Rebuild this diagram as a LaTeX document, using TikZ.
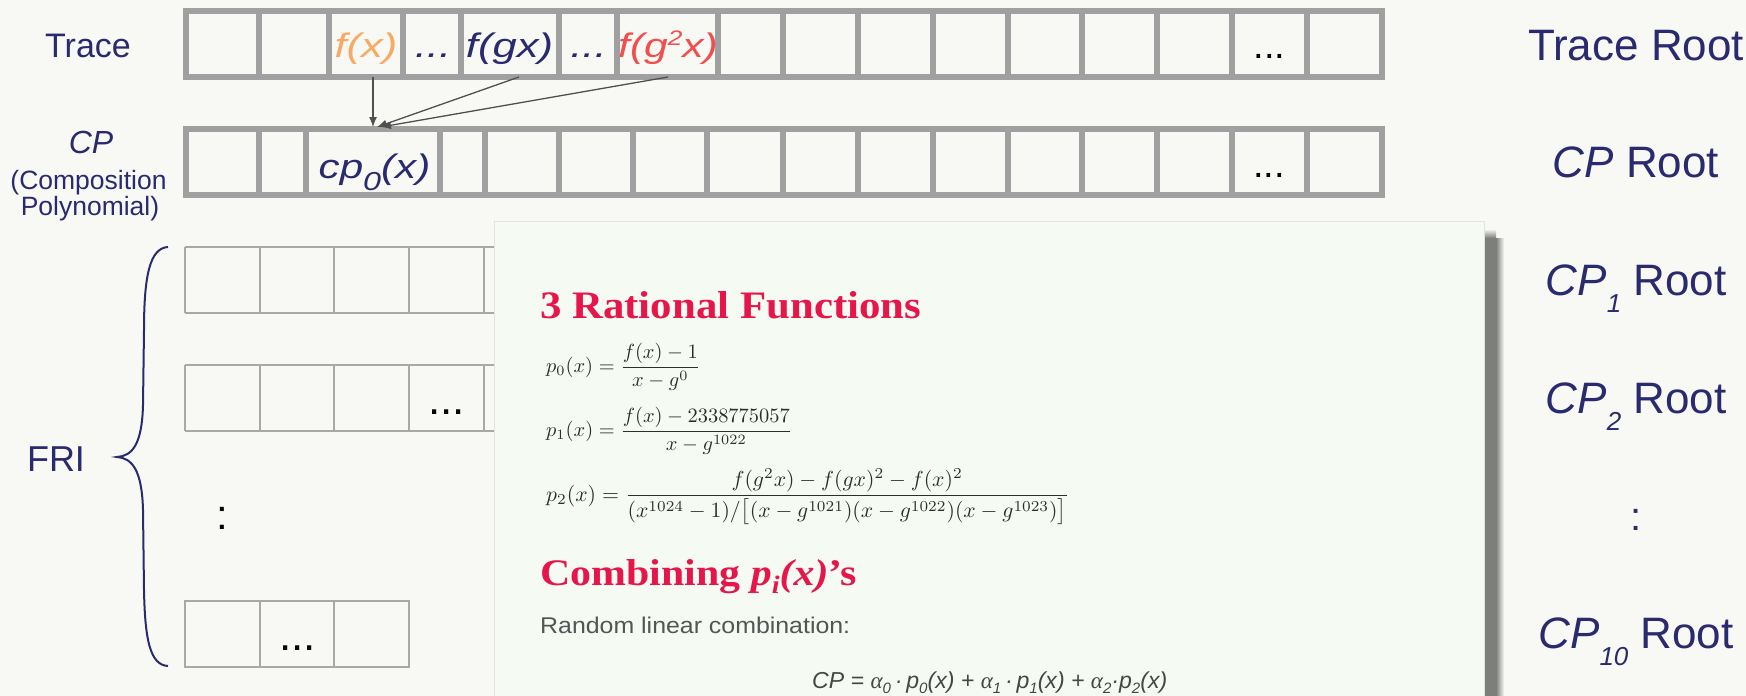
\documentclass[tikz,border=0pt]{standalone}
\usepackage{fontspec}
\setmainfont{Liberation Sans}
\newfontfamily\serifbf{Liberation Serif}
\usetikzlibrary{arrows.meta}
\definecolor{bg}{RGB}{248,249,244}
\definecolor{navy}{RGB}{42,42,110}
\definecolor{cellgray}{RGB}{160,160,160}
\definecolor{frigray}{RGB}{168,168,168}
\definecolor{orng}{RGB}{248,170,100}
\definecolor{redf}{RGB}{242,78,78}
\definecolor{crim}{RGB}{230,22,75}
\definecolor{panelbg}{RGB}{245,250,242}
\definecolor{panelbd}{RGB}{226,228,224}
\definecolor{arrowc}{RGB}{80,80,80}
\definecolor{mathc}{RGB}{45,45,45}
\definecolor{txtgray}{RGB}{85,85,85}
\definecolor{eqc}{RGB}{70,70,70}
\definecolor{shd}{RGB}{125,127,123}
\newcommand{\fs}[1]{\fontsize{#1}{#1}\selectfont}
\newcommand{\lsub}[3]{\raisebox{-#2pt}{\fs{#3}#1}}
\newcommand{\cellfont}{\fs{34}\itshape}
\begin{document}
\begin{tikzpicture}[x=1pt,y=-1pt,
  lbl/.style={inner sep=0pt, anchor=base, text=navy},
  tlabel/.style={lbl, font=\fs{34}},
  rlabel/.style={lbl, font=\fs{44}},
  rowline/.style={draw=cellgray, line width=5.5pt},
  friline/.style={draw=frigray, line width=1.7pt},
  conn/.style={draw=arrowc, line width=1.3pt, -{Latex[length=10pt,width=8pt]}},
  dots/.style={inner sep=0pt, anchor=base, text=black}]
\useasboundingbox (0,0) rectangle (1746,696);
\fill[bg] (0,0) rectangle (1746,696);

% ---- FRI rows (behind the panel)
\foreach \ya/\yb in {247/313, 365/431} {
  \draw[friline] (185,\ya) -- (700,\ya) (185,\yb) -- (700,\yb);
  \foreach \xx in {185,260,334,409,484,559,634} \draw[friline] (\xx,\ya) -- (\xx,\yb);
}
\draw[friline] (185,601) rectangle (409,667);
\foreach \xx in {260,334} \draw[friline] (\xx,601) -- (\xx,667);
\node[dots, font=\fs{44}] (fdots2) at (446.5,414) {...};
\node[dots, font=\fs{44}] (fdots3) at (297.5,650) {...};
\node[dots, font=\fs{42}] (fcolon) at (222,529) {:};

% brace and FRI label
\draw[navy, line width=2pt] (168,247) .. controls (150,248) and (144,275) .. (144,330)
  -- (143,405) .. controls (142,445) and (132,456) .. (117,457)
  .. controls (132,458) and (142,470) .. (143,510)
  -- (144,590) .. controls (145,640) and (150,665) .. (168,666);
\node[tlabel, font=\fs{36}] (fri) at (56,471) {FRI};

% ---- panel with shadow
\fill[shd] (1485,238) rectangle (1496,696);
\shade[left color=shd, right color=bg] (1496,238) rectangle (1504,696);
\shade[top color=bg, bottom color=shd] (1485,229) rectangle (1496,238);
\fill[panelbg] (494.5,221.5) rectangle (1484.5,700);
\draw[panelbd, line width=1pt] (494.5,700) -- (494.5,221.5) -- (1484.5,221.5) -- (1484.5,700);

\node[anchor=base west, inner sep=0pt, text=crim] (title1) at (540,318)
  {\resizebox{381pt}{27pt}{\fs{40}\serifbf\bfseries 3 Rational Functions}};
\node[anchor=west, inner sep=0pt, text=mathc] (eq0) at (546,367)
  {\resizebox{154pt}{!}{$\displaystyle p_0(x)=\frac{f(x)-1}{x-g^0}$}};
\node[anchor=west, inner sep=0pt, text=mathc] (eq1) at (546,431)
  {\resizebox{246pt}{!}{$\displaystyle p_1(x)=\frac{f(x)-2338775057}{x-g^{1022}}$}};
\node[anchor=west, inner sep=0pt, text=mathc] (eq2) at (546,497)
  {\resizebox{523pt}{!}{$\displaystyle p_2(x)=\frac{f(g^2x)-f(gx)^2-f(x)^2}{(x^{1024}-1)/\bigl[(x-g^{1021})(x-g^{1022})(x-g^{1023})\bigr]}$}};
\node[anchor=base west, inner sep=0pt, text=crim] (title2) at (540,585)
  {\resizebox{317pt}{26pt}{\fs{40}\serifbf\bfseries Combining \textit{p}\raisebox{-9pt}{\fs{27}\textit{i}}\textit{(x)}’s}};
\node[anchor=base west, inner sep=0pt, text=txtgray] (rlc) at (540,633)
  {\resizebox{310pt}{16.5pt}{\fs{22}Random linear combination:}};
\node[anchor=base west, inner sep=0pt, text=eqc] (cpeq) at (812,688)
  {\resizebox{355pt}{!}{\fs{23}\itshape CP = {\serifbf α}\lsub{0}{5}{15}\,·\,p\lsub{0}{5}{15}(x) + {\serifbf α}\lsub{1}{5}{15}\,·\,p\lsub{1}{5}{15}(x) + {\serifbf α}\lsub{2}{5}{15}·p\lsub{2}{5}{15}(x)}};

% ---- Trace row
\draw[rowline] (186,11) rectangle (1382,77);
\foreach \xx in {259,329,403,461,559,617,718,783,858,933,1008,1082,1157,1232,1307}
  \draw[rowline] (\xx,11) -- (\xx,77);
% ---- CP row
\draw[rowline] (186,129) rectangle (1382,195);
\foreach \xx in {259,306,440,485,559,633,707,783,858,933,1008,1082,1157,1232,1307}
  \draw[rowline] (\xx,129) -- (\xx,195);

% cell texts
\node[lbl, text=orng] (fx) at (366,57) {\cellfont\scalebox{1.28}[1]{f(x)}};
\node[lbl] (d1) at (433,57) {\cellfont\scalebox{1.28}[1]{...}};
\node[lbl] (fgx) at (509.5,57) {\cellfont\scalebox{1.28}[1]{f(gx)}};
\node[lbl] (d2) at (588.5,57) {\cellfont\scalebox{1.28}[1]{...}};
\node[lbl, text=redf] (fggx) at (668,57) {\cellfont\scalebox{1.25}[1]{f(g\raisebox{12pt}{\fs{21}2}x)}};
\node[dots, font=\fs{38}] (tdots) at (1269.5,58) {...};
\node[lbl] (cp0) at (374.5,178) {\cellfont\scalebox{1.24}[1]{cp\lsub{0}{12}{26}(x)}};
\node[dots, font=\fs{38}] (cdots) at (1269,177) {...};

% connectors
\coordinate (s1) at (373,77);
\coordinate (s2) at (519,77);
\coordinate (s3) at (668,77);
\coordinate (e1) at (373,127);
\coordinate (e2) at (377,127);
\coordinate (e3) at (381,127);
\draw[conn] (s1) -- (e1);
\draw[conn] (s2) -- (e2);
\draw[conn] (s3) -- (e3);

% left labels
\node[tlabel] (trace) at (88,57) {Trace};
\node[lbl, font=\fs{32}\itshape] (cpl) at (91,153) {CP};
\node[lbl, font=\fs{26.5}] (comp1) at (88.5,189) {(Composition};
\node[lbl, font=\fs{26.5}] (comp2) at (90,215) {Polynomial)};

% right labels
\node[rlabel] (rt) at (1636,60) {Trace Root};
\node[rlabel] (rcp) at (1636,177) {\textit{CP} Root};
\node[rlabel] (rcp1) at (1636,295) {\textit{CP}\lsub{\textit{1}}{17}{26}\ Root};
\node[rlabel] (rcp2) at (1636,413) {\textit{CP}\lsub{\textit{2}}{17}{26}\ Root};
\node[rlabel, font=\fs{40}] (rcolon) at (1636,530) {:};
\node[rlabel] (rcp10) at (1636,648) {\textit{CP}\lsub{\textit{10}}{17}{26}\ Root};
\end{tikzpicture}
\end{document}
